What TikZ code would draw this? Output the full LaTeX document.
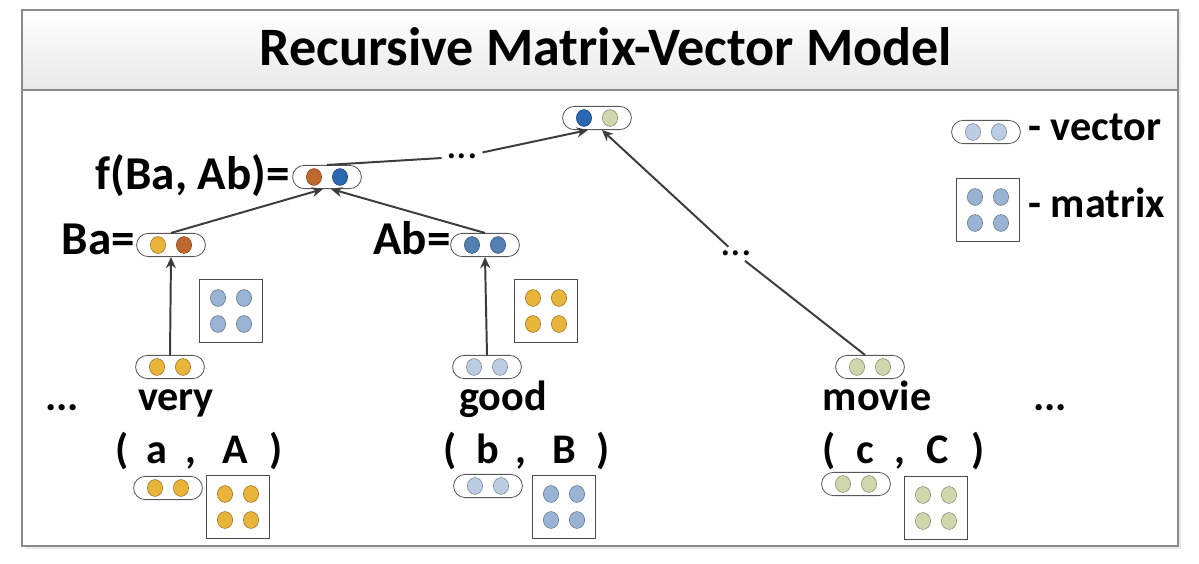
\documentclass[tikz,border=0pt]{standalone}
\usepackage{fontspec}
\setmainfont{Carlito}
\usetikzlibrary{arrows.meta,calc}
\definecolor{cYel}{HTML}{E9B43A}
\definecolor{cBrn}{HTML}{C0692F}
\definecolor{cDkB}{HTML}{2A68B2}
\definecolor{cStl}{HTML}{5380B2}
\definecolor{cLtB}{HTML}{BCCDE3}
\definecolor{cMdB}{HTML}{98B3D3}
\definecolor{cSag}{HTML}{D0D7AC}
\definecolor{cArr}{HTML}{3C3C3C}
\definecolor{cFrm}{HTML}{8A8A8A}
\tikzset{
  capsule/.style={draw=black!65, line width=0.6pt, fill=white, rounded corners=0.29cm,
    minimum width=1.72cm, minimum height=0.58cm, inner sep=0pt},
  matbox/.style={draw=black!70, line width=0.6pt, fill=white, minimum size=1.575cm, inner sep=0pt},
  lbl/.style={font=\bfseries\fontsize{30}{34}\selectfont, inner sep=0pt},
  biglbl/.style={font=\bfseries\fontsize{33.5}{38}\selectfont, inner sep=0pt},
  plain/.style={font=\fontsize{30}{34}\selectfont, inner sep=0pt},
  arr/.style={draw=cArr, line width=1.4pt, -{Stealth[length=0.28cm,width=0.25cm]}},
  seg/.style={draw=cArr, line width=1.4pt},
}
\newcommand\myvec[5]{%
  \node[capsule] (#1) at (#2,#3) {};
  \filldraw[fill=#4, draw=#4!65!black, line width=0.4pt] ($(#1)+(-13,0)$) ellipse [x radius=0.19cm, y radius=0.21cm];
  \filldraw[fill=#5, draw=#5!65!black, line width=0.4pt] ($(#1)+(13,0)$) ellipse [x radius=0.19cm, y radius=0.21cm];
}
\newcommand\mymat[4]{%
  \node[matbox] (#1) at (#2,#3) {};
  \foreach \dx in {-13,13}{\foreach \dy in {-13,13}{
    \filldraw[fill=#4, draw=#4!65!black, line width=0.4pt] ($(#1)+(\dx,\dy)$) ellipse [x radius=0.19cm, y radius=0.21cm];}}
}
\begin{document}
\begin{tikzpicture}[x=0.025cm, y=-0.025cm]
\useasboundingbox[fill=white] (0,0) rectangle (1199,564);
% frame and header
\fill[black!8] (25,12) rectangle (1181,549);
\node[draw=cFrm, line width=1pt, fill=white, minimum width=28.9cm, minimum height=13.4cm, inner sep=0pt] (frame) at (600,278) {};
\shade[top color=white, bottom color=black!9] (22.6,10.6) rectangle (1177.4,90);
\draw[cFrm, line width=0.9pt] (22,10) rectangle (1178,546);
\draw[cFrm, line width=0.9pt] (22,90) -- (1178,90);
\node[font=\bfseries\fontsize{38.5}{44}\selectfont, inner sep=0pt, anchor=base] (title) at (606,66) {Recursive Matrix-Vector Model};

% vectors
\myvec{root}{597}{118}{cDkB}{cSag}
\myvec{fcap}{327}{177}{cBrn}{cDkB}
\myvec{bacap}{171}{245}{cYel}{cBrn}
\myvec{abcap}{485}{245}{cStl}{cStl}
\myvec{verycap}{170}{367}{cYel}{cYel}
\myvec{goodcap}{487}{367}{cLtB}{cLtB}
\myvec{moviecap}{870}{367}{cSag}{cSag}
\myvec{acap}{168}{488}{cYel}{cYel}
\myvec{bcap}{488}{486}{cLtB}{cLtB}
\myvec{ccap}{856}{484}{cSag}{cSag}
\myvec{legvec}{986}{132}{cLtB}{cLtB}

% matrices
\mymat{verymat}{231}{311}{cMdB}
\mymat{goodmat}{546}{311}{cYel}
\mymat{amat}{238}{507}{cYel}
\mymat{bmat}{564}{507}{cMdB}
\mymat{cmat}{936}{508}{cSag}
\mymat{legmat}{988}{210}{cMdB}

% labels
\node[biglbl, anchor=base east] (flab) at (290,190) {f(Ba, Ab)=};
\node[biglbl, anchor=base east] (balab) at (135,255) {Ba=};
\node[biglbl, anchor=base east] (ablab) at (451,255) {Ab=};
\node[lbl, anchor=base west] (vlab) at (1028,141) {- vector};
\node[lbl, anchor=base west] (mlab) at (1028,218) {- matrix};

\node[lbl, anchor=base] (dotsL) at (62,410) {...};
\node[lbl, anchor=base] (very) at (176,410) {very};
\node[lbl, anchor=base] (good) at (503,410) {good};
\node[lbl, anchor=base] (movie) at (877,410) {movie};
\node[lbl, anchor=base] (dotsR) at (1050,410) {...};

\foreach \nm/\xx/\tx in {pa1/122/(, ta/157/a, ca/191/{,}, tA/235/A, pa2/276/),
                         pb1/450/(, tb/488/b, cb/521/{,}, tB/564/B, pb2/603/),
                         pc1/829/(, tc/865/c, cc/900/{,}, tC/938/C, pc2/978/)}
  \node[lbl, anchor=base] (\nm) at (\xx,463) {\tx};

% mid dots
\node[plain, anchor=base, inner sep=3pt] (dmid) at (462,159) {...};
\node[plain, anchor=base, inner sep=3pt] (dright) at (736,256) {...};

% connectors
\coordinate (fL) at ($(fcap.south)+(-4,0)$);
\coordinate (fR) at ($(fcap.south)+(4,0)$);
\coordinate (rootL) at ($(root.south)+(-9,0)$);
\coordinate (rootR) at ($(root.south)+(5,0)$);
\draw[arr] (verycap.north) -- (bacap.south);
\draw[arr] (goodcap.north) -- (abcap.south);
\draw[arr] (bacap.north) -- (fL);
\draw[arr] (abcap.north) -- (fR);
\draw[seg] (fcap.north) -- (dmid);
\draw[arr] (dmid) -- (rootL);
\draw[seg] ($(moviecap.north)+(-5,0)$) coordinate (mv) -- (dright);
\draw[arr] (dright) -- (rootR);
\end{tikzpicture}
\end{document}
